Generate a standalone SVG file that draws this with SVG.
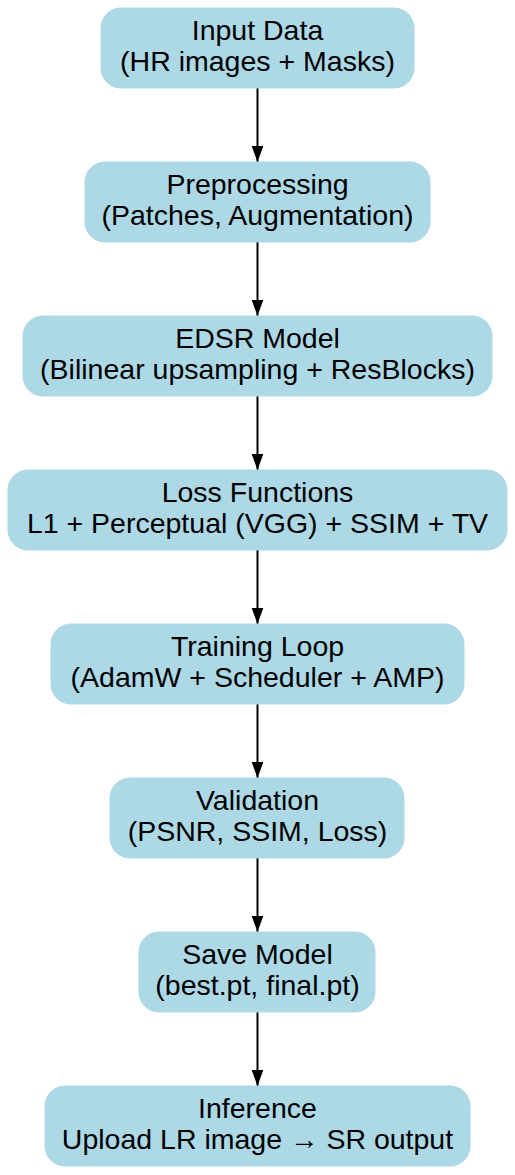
<svg xmlns="http://www.w3.org/2000/svg" width="515" height="1175" viewBox="0 0 515 1175">
<style>
.n{fill:#ADD8E6;stroke:#ADD8E6;stroke-width:1}
.t{font-family:"Liberation Sans",Arial,sans-serif;font-size:28.5px;fill:#000;text-anchor:middle}
.e{stroke:#000;stroke-width:2;fill:none}
</style>
<defs>
<marker id="ah" markerUnits="userSpaceOnUse" markerWidth="16" markerHeight="24" refX="22" refY="8" viewBox="0 0 22 16" orient="auto">
<path d="M0,0 L22,8 L0,16 Z" fill="#000"/>
</marker>
</defs>
<rect width="515" height="1175" fill="#fff"/>
<g id="edges">
<line class="e" x1="257.5" y1="88" x2="257.5" y2="162" marker-end="url(#ah)"/>
<line class="e" x1="257.5" y1="242" x2="257.5" y2="316" marker-end="url(#ah)"/>
<line class="e" x1="257.5" y1="396" x2="257.5" y2="470" marker-end="url(#ah)"/>
<line class="e" x1="257.5" y1="550" x2="257.5" y2="624" marker-end="url(#ah)"/>
<line class="e" x1="257.5" y1="704" x2="257.5" y2="778" marker-end="url(#ah)"/>
<line class="e" x1="257.5" y1="858" x2="257.5" y2="932" marker-end="url(#ah)"/>
<line class="e" x1="257.5" y1="1012" x2="257.5" y2="1086" marker-end="url(#ah)"/>
</g>
<g id="n1"><rect class="n" x="101" y="8" width="313" height="80" rx="20"/><text class="t" x="257.5" y="40">Input Data</text><text class="t" x="257.5" y="71">(HR images + Masks)</text></g>
<g id="n2"><rect class="n" x="85" y="162" width="345" height="80" rx="20"/><text class="t" x="257.5" y="194">Preprocessing</text><text class="t" x="257.5" y="225">(Patches, Augmentation)</text></g>
<g id="n3"><rect class="n" x="23" y="316" width="469" height="80" rx="20"/><text class="t" x="257.5" y="348">EDSR Model</text><text class="t" x="257.5" y="379">(Bilinear upsampling + ResBlocks)</text></g>
<g id="n4"><rect class="n" x="8" y="470" width="499" height="80" rx="20"/><text class="t" x="257.5" y="502">Loss Functions</text><text class="t" x="257.5" y="533">L1 + Perceptual (VGG) + SSIM + TV</text></g>
<g id="n5"><rect class="n" x="51" y="624" width="413" height="80" rx="20"/><text class="t" x="257.5" y="656">Training Loop</text><text class="t" x="257.5" y="687">(AdamW + Scheduler + AMP)</text></g>
<g id="n6"><rect class="n" x="110" y="778" width="294" height="80" rx="20"/><text class="t" x="257.5" y="810">Validation</text><text class="t" x="257.5" y="841">(PSNR, SSIM, Loss)</text></g>
<g id="n7"><rect class="n" x="139" y="932" width="236" height="80" rx="20"/><text class="t" x="257.5" y="964">Save Model</text><text class="t" x="257.5" y="995">(best.pt, final.pt)</text></g>
<g id="n8"><rect class="n" x="45" y="1086" width="425" height="80" rx="20"/><text class="t" x="257.5" y="1118">Inference</text><text class="t" x="257.5" y="1149">Upload LR image → SR output</text></g>
</svg>
